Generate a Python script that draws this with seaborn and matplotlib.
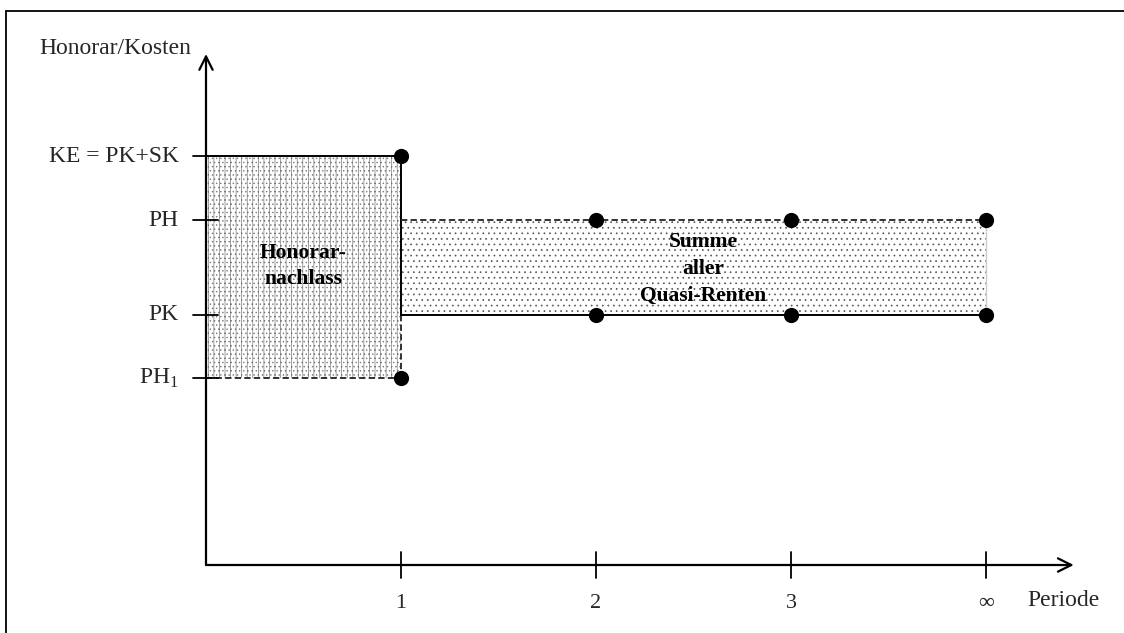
import matplotlib
matplotlib.use("Agg")
import matplotlib.pyplot as plt
import seaborn as sns
import pandas as pd
from matplotlib.patches import Rectangle
from matplotlib.lines import Line2D

# ---- data ----
periods = [1, 2, 3, 4]
period_labels = ["1", "2", "3", "\u221e"]
level_names = ["KE = PK+SK", "PH", "PK", "PH$_1$"]
KE, PH, PK, PH1 = 8.18, 6.9, 5.0, 3.74
level_values = [KE, PH, PK, PH1]
dot_x = [1, 1, 2, 3, 4, 2, 3, 4]
dot_y = [KE, PH1, PH, PH, PH, PK, PK, PK]

sns.set_theme(style="white")
plt.rcParams["font.family"] = ["Liberation Serif", "DejaVu Serif"]
plt.rcParams["mathtext.fontset"] = "custom"
plt.rcParams["mathtext.rm"] = "Liberation Serif"
plt.rcParams["hatch.linewidth"] = 0.5

W, H = 1124, 633
fig = plt.figure(figsize=(W / 100, H / 100), dpi=100)
ax = fig.add_axes([0, 0, 1, 1])
ox, oy, sx, sy = 206, 565, 195, 50
ax.set_xlim(-ox / sx, (W - ox) / sx)
ax.set_ylim(-(H - oy) / sy, oy / sy)
ax.axis("off")

# outer frame (top and left)
fig.add_artist(Line2D([6 / W, 6 / W], [0, 1 - 11 / H], color="black", lw=1.3))
fig.add_artist(Line2D([6 / W, 1], [1 - 11 / H, 1 - 11 / H], color="black", lw=1.3))

# filled areas
ax.add_patch(Rectangle((0, PH1), 1, KE - PH1, facecolor="white", edgecolor="#7a7a7a",
                       hatch="|||....", lw=0, zorder=1))
ax.add_patch(Rectangle((1, PK), 3, PH - PK, facecolor="white", edgecolor="#555555",
                       hatch="...", lw=0, zorder=1))

dash = (0, (3.5, 1.8))
# left box edges
ax.plot([0, 1], [KE, KE], color="black", lw=1.4, zorder=2)
ax.plot([1, 1], [KE, PK], color="black", lw=1.4, zorder=2)
ax.plot([1, 1], [PK, PH1], color="#222222", lw=1.3, ls=dash, zorder=2)
ax.plot([0, 1], [PH1, PH1], color="#222222", lw=1.3, ls=dash, zorder=2)
# right box edges
ax.plot([1, 4], [PH, PH], color="#222222", lw=1.3, ls=dash, zorder=2)
ax.plot([1, 4], [PK, PK], color="black", lw=1.4, zorder=2)
ax.plot([4, 4], [PK, PH], color="#cccccc", lw=1.0, zorder=2)

# axes with arrows
ax.annotate("", xy=(0, 10.22), xytext=(0, 0),
            arrowprops=dict(arrowstyle="->", lw=1.6, mutation_scale=24, color="black",
                            shrinkA=0, shrinkB=0))
ax.annotate("", xy=(4.45, 0), xytext=(0, 0),
            arrowprops=dict(arrowstyle="->", lw=1.6, mutation_scale=24, color="black",
                            shrinkA=0, shrinkB=0))

# ticks
for p, lab in zip(periods, period_labels):
    ax.plot([p, p], [-0.26, 0.26], color="black", lw=1.3)
    ax.text(p, -0.76, lab, ha="center", va="center", fontsize=16)
for name, v in zip(level_names, level_values):
    ax.plot([-0.066, 0.06], [v, v], color="black", lw=1.3)
    ax.text(-0.14, v, name, ha="right", va="center", fontsize=17)

ax.text(-0.466, 10.34, "Honorar/Kosten", ha="center", va="center", fontsize=17)
ax.text(4.395, -0.72, "Periode", ha="center", va="center", fontsize=17)

# dots
df = pd.DataFrame({"x": dot_x, "y": dot_y})
sns.scatterplot(data=df, x="x", y="y", ax=ax, color="black", s=120, edgecolor="black",
                linewidth=0, zorder=5, legend=False)
ax.set_xlim(-ox / sx, (W - ox) / sx)
ax.set_ylim(-(H - oy) / sy, oy / sy)
ax.axis("off")

# labels in areas
ax.text(0.5, 5.98, "Honorar-\nnachlass", ha="center", va="center", fontsize=15.5,
        fontweight="bold", linespacing=1.45, color="black", zorder=4)
ax.text(2.55, 5.92, "Summe\naller\nQuasi-Renten", ha="center", va="center", fontsize=15.5,
        fontweight="bold", linespacing=1.45, color="black", zorder=4)

fig.savefig("out.png", dpi=100)
